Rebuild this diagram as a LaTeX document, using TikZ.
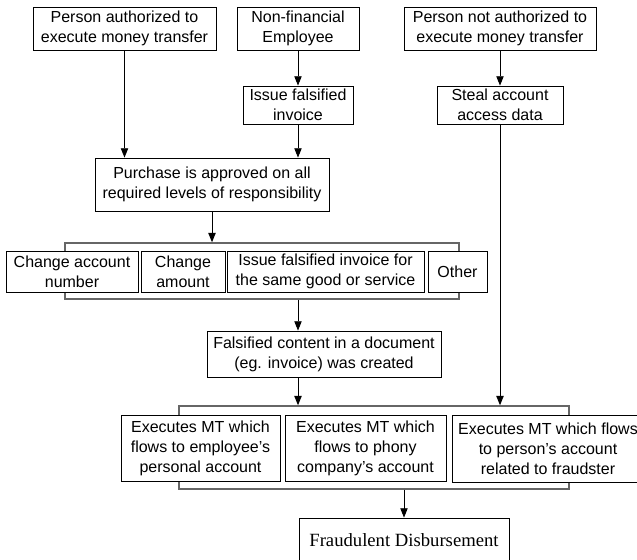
\documentclass[tikz,border=0pt]{standalone}
\usepackage{fontspec}
\setmainfont{Liberation Sans}
\newfontfamily\serifSchrift{Liberation Serif}
\usetikzlibrary{arrows.meta}

\begin{document}
\begin{tikzpicture}[x=0.75pt,y=-0.75pt,
	kasten/.style={rectangle,draw=black,line width=0.6pt,fill=white,align=center,inner sep=1pt,font=\fontsize{12}{15}\selectfont},
	klammer/.style={rectangle,draw=black!60,line width=1.1pt,inner sep=0pt},
	pfeil/.style={draw=black,line width=0.7pt,-{Triangle[length=7pt,width=5.5pt]}}]
	\def\pxMass{0.75pt}
	\useasboundingbox (0,0) rectangle (637,560);
	\clip (0,0) rectangle (637,560);
	%
	\node[kasten,minimum width=183*\pxMass,minimum height=43*\pxMass] (befugt) at (124.5,28.5) {Person authorized to\\execute money transfer};
	\node[kasten,minimum width=122*\pxMass,minimum height=43*\pxMass] (mitarb) at (298,28.5) {Non-financial\\Employee};
	\node[kasten,minimum width=192*\pxMass,minimum height=43*\pxMass] (unbefugt) at (500,28.5) {Person not authorized to\\execute money transfer};
	%
	\node[kasten,minimum width=110*\pxMass,minimum height=38*\pxMass] (rechnung) at (298,105) {Issue falsified\\invoice};
	\node[kasten,minimum width=126*\pxMass,minimum height=38*\pxMass] (zugang) at (500,105) {Steal account\\access data};
	%
	\node[kasten,minimum width=234*\pxMass,minimum height=53*\pxMass] (genehmigt) at (212,184.5) {Purchase is approved on all\\required levels of responsibility};
	%
	\node[klammer,minimum width=394*\pxMass,minimum height=56*\pxMass] (gruppe1) at (262,271) {};
	\node[kasten,minimum width=132*\pxMass,minimum height=41*\pxMass] (konto) at (72,271.5) {Change account\\number};
	\node[kasten,minimum width=84*\pxMass,minimum height=41*\pxMass] (betrag) at (183,271.5) {Change\\amount};
	\node[kasten,minimum width=197*\pxMass,minimum height=41*\pxMass] (doppelt) at (325.5,271.5) {Issue falsified invoice for\\the same good or service};
	\node[kasten,minimum width=59*\pxMass,minimum height=41*\pxMass] (andere) at (457.5,271.5) {Other};
	%
	\node[kasten,minimum width=234*\pxMass,minimum height=46*\pxMass] (inhalt) at (324,354) {Falsified content in a document\\(eg. invoice) was created};
	%
	\node[klammer,minimum width=390*\pxMass,minimum height=83*\pxMass] (gruppe2) at (374,447.5) {};
	\node[kasten,minimum width=159*\pxMass,minimum height=66*\pxMass] (mtEigen) at (200.5,448) {Executes MT which\\flows to employee's\\personal account};
	\node[kasten,minimum width=161*\pxMass,minimum height=66*\pxMass] (mtFirma) at (365.5,448) {Executes MT which\\flows to phony\\company's account};
	\node[kasten,minimum width=192*\pxMass,minimum height=67*\pxMass] (mtDritt) at (548,448.5) {Executes MT which flows\\to person's account\\related to fraudster};
	%
	\node[kasten,font=\serifSchrift\fontsize{14}{16}\selectfont,minimum width=210*\pxMass,minimum height=44*\pxMass] (auszahlung) at (404,540) {Fraudulent Disbursement};
	%
	\draw[pfeil] (befugt.south) -- (befugt.south |- genehmigt.north);
	\draw[pfeil] (mitarb.south) -- (rechnung.north);
	\draw[pfeil] (rechnung.south) -- (rechnung.south |- genehmigt.north);
	\draw[pfeil] (unbefugt.south) -- (zugang.north);
	\draw[pfeil] (genehmigt.south) -- (genehmigt.south |- gruppe1.north);
	\draw[pfeil] (gruppe1.south -| rechnung.south) -- (inhalt.north -| rechnung.south);
	\draw[pfeil] (inhalt.south -| rechnung.south) -- (gruppe2.north -| rechnung.south);
	\draw[pfeil] (zugang.south) -- (zugang.south |- gruppe2.north);
	\draw[pfeil] (gruppe2.south -| auszahlung.north) -- (auszahlung.north);
	%
\end{tikzpicture}
\end{document}
